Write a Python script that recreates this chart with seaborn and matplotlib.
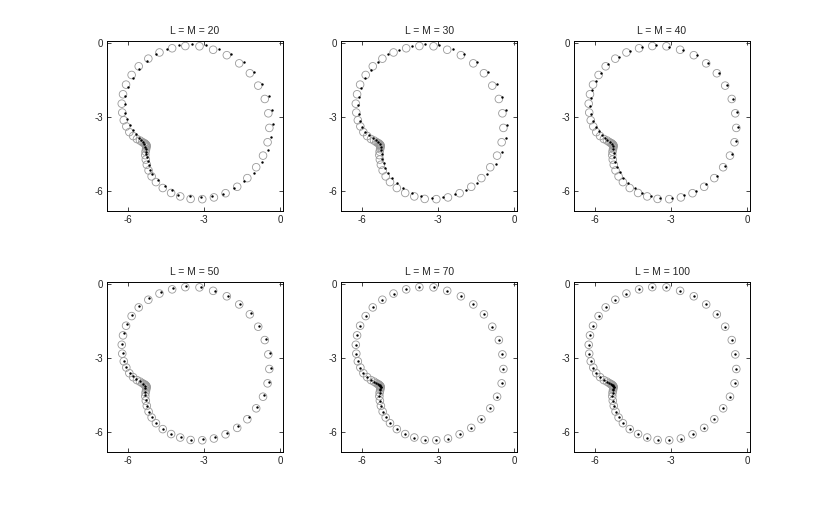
import numpy as np
import matplotlib
matplotlib.use("Agg")
import matplotlib.pyplot as plt
import seaborn as sns

# reference eigenvalues (open grey circles), read clockwise from the top
cx = [-4.26, -3.74, -3.18, -2.64, -2.10, -1.61, -1.19, -0.86, -0.60, -0.46, -0.42, -0.49, -0.67, -0.94, -1.29,
      -1.69, -2.15, -2.61, -3.07, -3.53, -3.94, -4.30, -4.63, -4.90, -5.07, -5.19, -5.26, -5.30, -5.32, -5.31, -5.29,
      -5.28, -5.27, -5.27, -5.29, -5.31, -5.34, -5.38,
      -5.44, -5.53, -5.65, -5.80, -5.95, -6.07, -6.17, -6.23, -6.25, -6.20, -6.08, -5.86, -5.58, -5.20, -4.76]
cy = [-0.22, -0.13, -0.14, -0.28, -0.50, -0.83, -1.23, -1.73, -2.27, -2.85, -3.44, -4.02, -4.56, -5.03, -5.47,
      -5.82, -6.08, -6.25, -6.32, -6.31, -6.21, -6.07, -5.87, -5.63, -5.40, -5.16, -4.93, -4.72, -4.54, -4.40, -4.30,
      -4.23, -4.18, -4.15, -4.12, -4.10, -4.07, -4.05,
      -4.01, -3.95, -3.89, -3.77, -3.61, -3.38, -3.13, -2.82, -2.46, -2.08, -1.69, -1.30, -0.95, -0.64, -0.39]

# approximations (black dots) for each L = M
d20x = [-4.88, -4.45, -3.97, -3.46, -2.93, -2.40, -1.92, -1.44, -1.03, -0.70, -0.45, -0.30, -0.27, -0.35, -0.47,
        -0.72, -1.02, -1.43, -1.82, -2.25, -2.68, -3.13, -3.56, -4.01, -4.27, -4.55, -4.80, -5.04, -5.12, -5.18,
        -5.22, -5.25, -5.28, -5.30, -5.31, -5.34, -5.38, -5.43, -5.50, -5.58, -5.70, -5.80, -5.93, -6.04, -6.11,
        -6.12, -6.11, -5.99, -5.82, -5.57, -5.25]
d20y = [-0.47, -0.24, -0.09, -0.05, -0.09, -0.23, -0.45, -0.78, -1.19, -1.65, -2.16, -2.70, -3.28, -3.79, -4.33,
        -4.80, -5.26, -5.57, -5.88, -6.11, -6.19, -6.23, -6.19, -6.14, -5.97, -5.78, -5.55, -5.30, -5.14, -4.94,
        -4.77, -4.63, -4.51, -4.40, -4.29, -4.20, -4.10, -4.02, -3.93, -3.83, -3.70, -3.52, -3.31, -3.08, -2.85,
        -2.47, -2.13, -1.77, -1.42, -1.04, -0.74]

d30x = [-4.96, -4.53, -4.04, -3.50, -2.96, -2.43, -1.96, -1.45, -1.03, -0.67, -0.46, -0.30, -0.26, -0.33, -0.47,
        -0.70, -1.07, -1.47, -1.89, -2.33, -2.79, -3.25, -3.66, -4.05, -4.38, -4.63, -4.83, -4.97, -5.08, -5.14,
        -5.20, -5.22, -5.24, -5.25, -5.29, -5.38, -5.47, -5.59, -5.72, -5.87, -5.99, -6.08, -6.14, -6.17, -6.14,
        -6.04, -5.87, -5.64, -5.38]
d30y = [-0.44, -0.27, -0.12, -0.03, -0.07, -0.23, -0.44, -0.78, -1.17, -1.68, -2.19, -2.73, -3.31, -3.86, -4.40,
        -4.91, -5.32, -5.67, -5.94, -6.11, -6.23, -6.26, -6.19, -6.07, -5.88, -5.68, -5.46, -5.26, -5.06, -4.87,
        -4.68, -4.51, -4.35, -4.21, -4.10, -4.01, -3.93, -3.84, -3.73, -3.59, -3.39, -3.16, -2.87, -2.53, -2.18,
        -1.82, -1.44, -1.09, -0.77]

d40x = [-5.07, -4.63, -4.14, -3.61, -3.07, -2.51, -1.99, -1.53, -1.12, -0.78, -0.54, -0.39, -0.36, -0.43, -0.61,
        -0.86, -1.20, -1.61, -2.03, -2.49, -2.96, -3.42, -3.80, -4.13, -4.43, -4.70, -4.88, -5.03, -5.12, -5.20,
        -5.24, -5.26, -5.28, -5.29, -5.34, -5.42, -5.51, -5.62, -5.74, -5.86, -5.97, -6.07, -6.14, -6.18, -6.17,
        -6.11, -5.96, -5.76, -5.50]
d40y = [-0.58, -0.34, -0.17, -0.09, -0.17, -0.28, -0.48, -0.83, -1.22, -1.72, -2.26, -2.81, -3.41, -3.98, -4.51,
        -4.98, -5.40, -5.72, -6.00, -6.16, -6.27, -6.26, -6.19, -6.07, -5.88, -5.67, -5.45, -5.24, -5.02, -4.80,
        -4.62, -4.44, -4.28, -4.16, -4.08, -4.01, -3.93, -3.84, -3.73, -3.58, -3.41, -3.16, -2.88, -2.57, -2.25,
        -1.92, -1.55, -1.20, -0.86]

d50x = [-5.17, -4.71, -4.22, -3.70, -3.13, -2.58, -2.04, -1.58, -1.14, -0.82, -0.55, -0.41, -0.37, -0.45, -0.63,
        -0.89, -1.22, -1.64, -2.11, -2.57, -3.05, -3.50, -3.92, -4.32, -4.62, -4.88, -5.07, -5.18, -5.26, -5.30,
        -5.32, -5.32, -5.32, -5.34, -5.42, -5.54, -5.67, -5.80, -5.93, -6.07, -6.16, -6.22, -6.24, -6.17, -6.05,
        -5.84, -5.57]
d50y = [-0.57, -0.34, -0.18, -0.09, -0.12, -0.27, -0.47, -0.81, -1.19, -1.70, -2.24, -2.80, -3.40, -3.98, -4.51,
        -4.97, -5.40, -5.74, -6.01, -6.19, -6.28, -6.29, -6.19, -6.06, -5.85, -5.63, -5.38, -5.16, -4.92, -4.70,
        -4.51, -4.35, -4.22, -4.11, -4.03, -3.94, -3.84, -3.73, -3.60, -3.37, -3.10, -2.79, -2.43, -1.99, -1.64,
        -1.25, -0.90]

# for L = M = 70 and 100 the dots sit in the circle centres
d70x, d70y = cx, cy
d100x, d100y = cx, cy

titles = ["L = M = 20", "L = M = 30", "L = M = 40", "L = M = 50", "L = M = 70", "L = M = 100"]
dots = [(d20x, d20y), (d30x, d30y), (d40x, d40y), (d50x, d50y), (d70x, d70y), (d100x, d100y)]
ticks = [-6, -3, 0]

sns.set_style("white")
plt.rcParams["font.family"] = ["Liberation Sans", "DejaVu Sans"]
plt.rcParams["axes.unicode_minus"] = False

fig = plt.figure(figsize=(8.3, 5.08), dpi=100)
lefts = [0.129, 0.411, 0.6916]
bottoms = [0.5846, 0.110]
w, h = 0.212, 0.335

for i, title in enumerate(titles):
    ax = fig.add_axes([lefts[i % 3], bottoms[i // 3], w, h])
    sns.scatterplot(x=cx, y=cy, ax=ax, marker="o", s=30, facecolors="none",
                    edgecolor="#9a9a9a", linewidth=0.6, zorder=2)
    dx, dy = dots[i]
    sns.scatterplot(x=dx, y=dy, ax=ax, marker="o", s=3, color="black",
                    linewidth=0, zorder=3)
    ax.set_xlim(-6.83, 0.12)
    ax.set_ylim(-6.80, 0.08)
    ax.set_xticks(ticks)
    ax.set_yticks(ticks)
    ax.tick_params(direction="in", length=3, width=0.6, labelsize=7, pad=3,
                   top=True, right=True, bottom=True, left=True)
    for sp in ax.spines.values():
        sp.set_color("black")
        sp.set_linewidth(0.7)
    ax.set_title(title, fontsize=7.5, pad=5)

fig.savefig("out.png", dpi=100)
